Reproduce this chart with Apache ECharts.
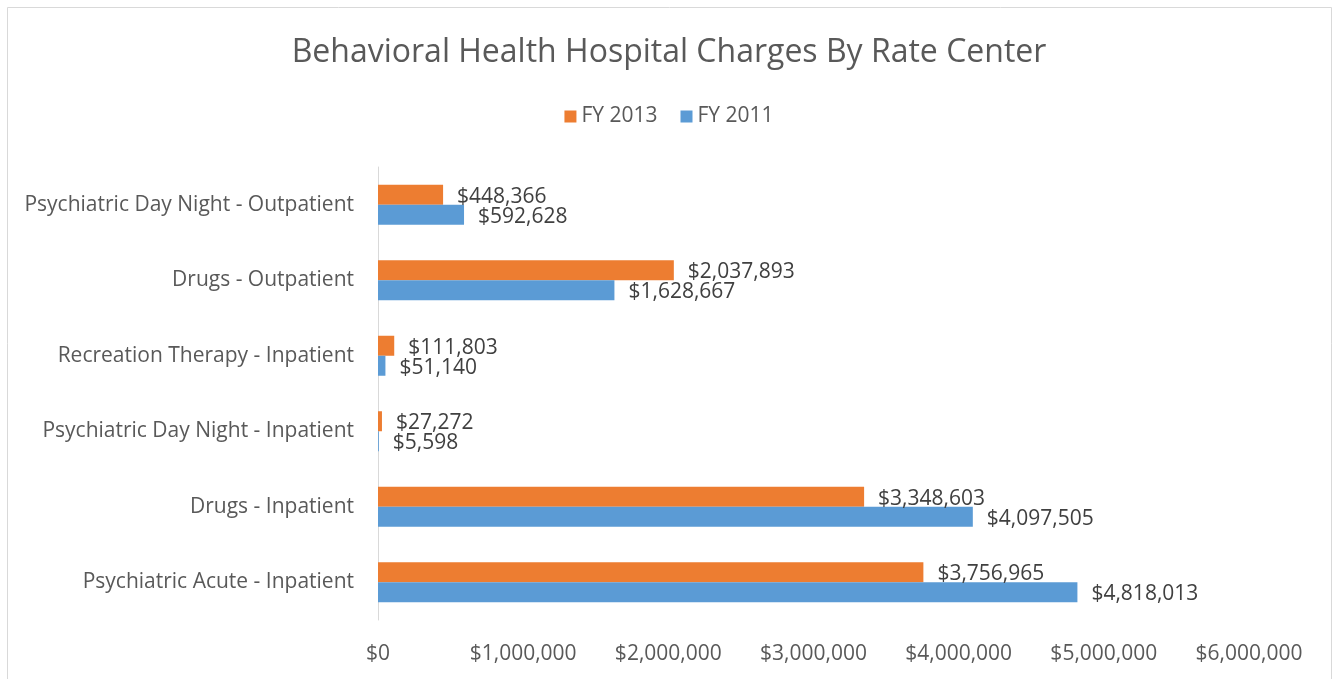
<!DOCTYPE html>
<html>
<head>
<meta charset="utf-8">
<script src="https://cdn.jsdelivr.net/npm/echarts@6/dist/echarts.min.js"></script>
<style>
  html, body { margin: 0; padding: 0; background: #fff; }
  #chart { width: 1338px; height: 679px; }
</style>
</head>
<body>
<div id="chart"></div>
<script>
// rate centers, bottom to top (category axis runs upward)
const categories = [
  "Psychiatric Acute - Inpatient",
  "Drugs - Inpatient",
  "Psychiatric Day Night - Inpatient",
  "Recreation Therapy - Inpatient",
  "Drugs - Outpatient",
  "Psychiatric Day Night - Outpatient",
];
const fy2013 = [3756965, 3348603, 27272, 111803, 2037893, 448366];
const fy2011 = [4818013, 4097505, 5598, 51140, 1628667, 592628];
const legendOrder = ["FY 2013", "FY 2011"];

const fontFamily = "'Open Sans', sans-serif";
const money = (v) => "$" + Number(v).toLocaleString("en-US");

const chart = echarts.init(document.getElementById("chart"));

const barLabel = {
  show: true,
  position: "right",
  distance: 14,
  offset: [0, 2],
  formatter: (p) => money(p.value),
  fontSize: 21,
  color: "#404040",
};

chart.setOption({
  backgroundColor: "#fff",
  animation: false,
  textStyle: { fontFamily: fontFamily },
  graphic: [
    {
      type: "rect",
      shape: { x: 7.5, y: 7.5, width: 1324, height: 700 },
      style: { fill: "none", stroke: "#d9d9d9", lineWidth: 1 },
      silent: true,
    },
  ],
  title: {
    text: "Behavioral Health Hospital Charges By Rate Center",
    left: "center",
    top: 32,
    textStyle: { fontSize: 32, fontWeight: "normal", color: "#595959", fontFamily: fontFamily },
  },
  legend: {
    data: legendOrder,
    top: 101,
    left: "center",
    itemWidth: 12,
    itemHeight: 12,
    itemGap: 23,
    icon: "rect",
    textStyle: { fontSize: 21, color: "#595959", fontFamily: fontFamily },
  },
  grid: {
    left: 378,
    right: 89,
    top: 167,
    bottom: 59,
    containLabel: false,
  },
  xAxis: {
    type: "value",
    min: 0,
    max: 6000000,
    interval: 1000000,
    axisLine: { show: false },
    axisTick: { show: false },
    splitLine: { show: false },
    axisLabel: {
      formatter: money,
      fontSize: 21,
      color: "#595959",
      margin: 24,
    },
  },
  yAxis: {
    type: "category",
    data: categories,
    axisLine: { show: true, lineStyle: { color: "#d9d9d9", width: 1 } },
    axisTick: { show: false },
    splitLine: { show: false },
    axisLabel: {
      fontSize: 21,
      color: "#595959",
      margin: 24,
      padding: [4, 0, 0, 0],
    },
  },
  series: [
    {
      name: "FY 2013",
      type: "bar",
      data: fy2013,
      barWidth: 20,
      barGap: "0%",
      itemStyle: { color: "#ed7d31" },
      label: barLabel,
    },
    {
      name: "FY 2011",
      type: "bar",
      data: fy2011,
      barWidth: 20,
      barGap: "0%",
      itemStyle: { color: "#5b9bd5" },
      label: barLabel,
    },
  ],
});
</script>
</body>
</html>
